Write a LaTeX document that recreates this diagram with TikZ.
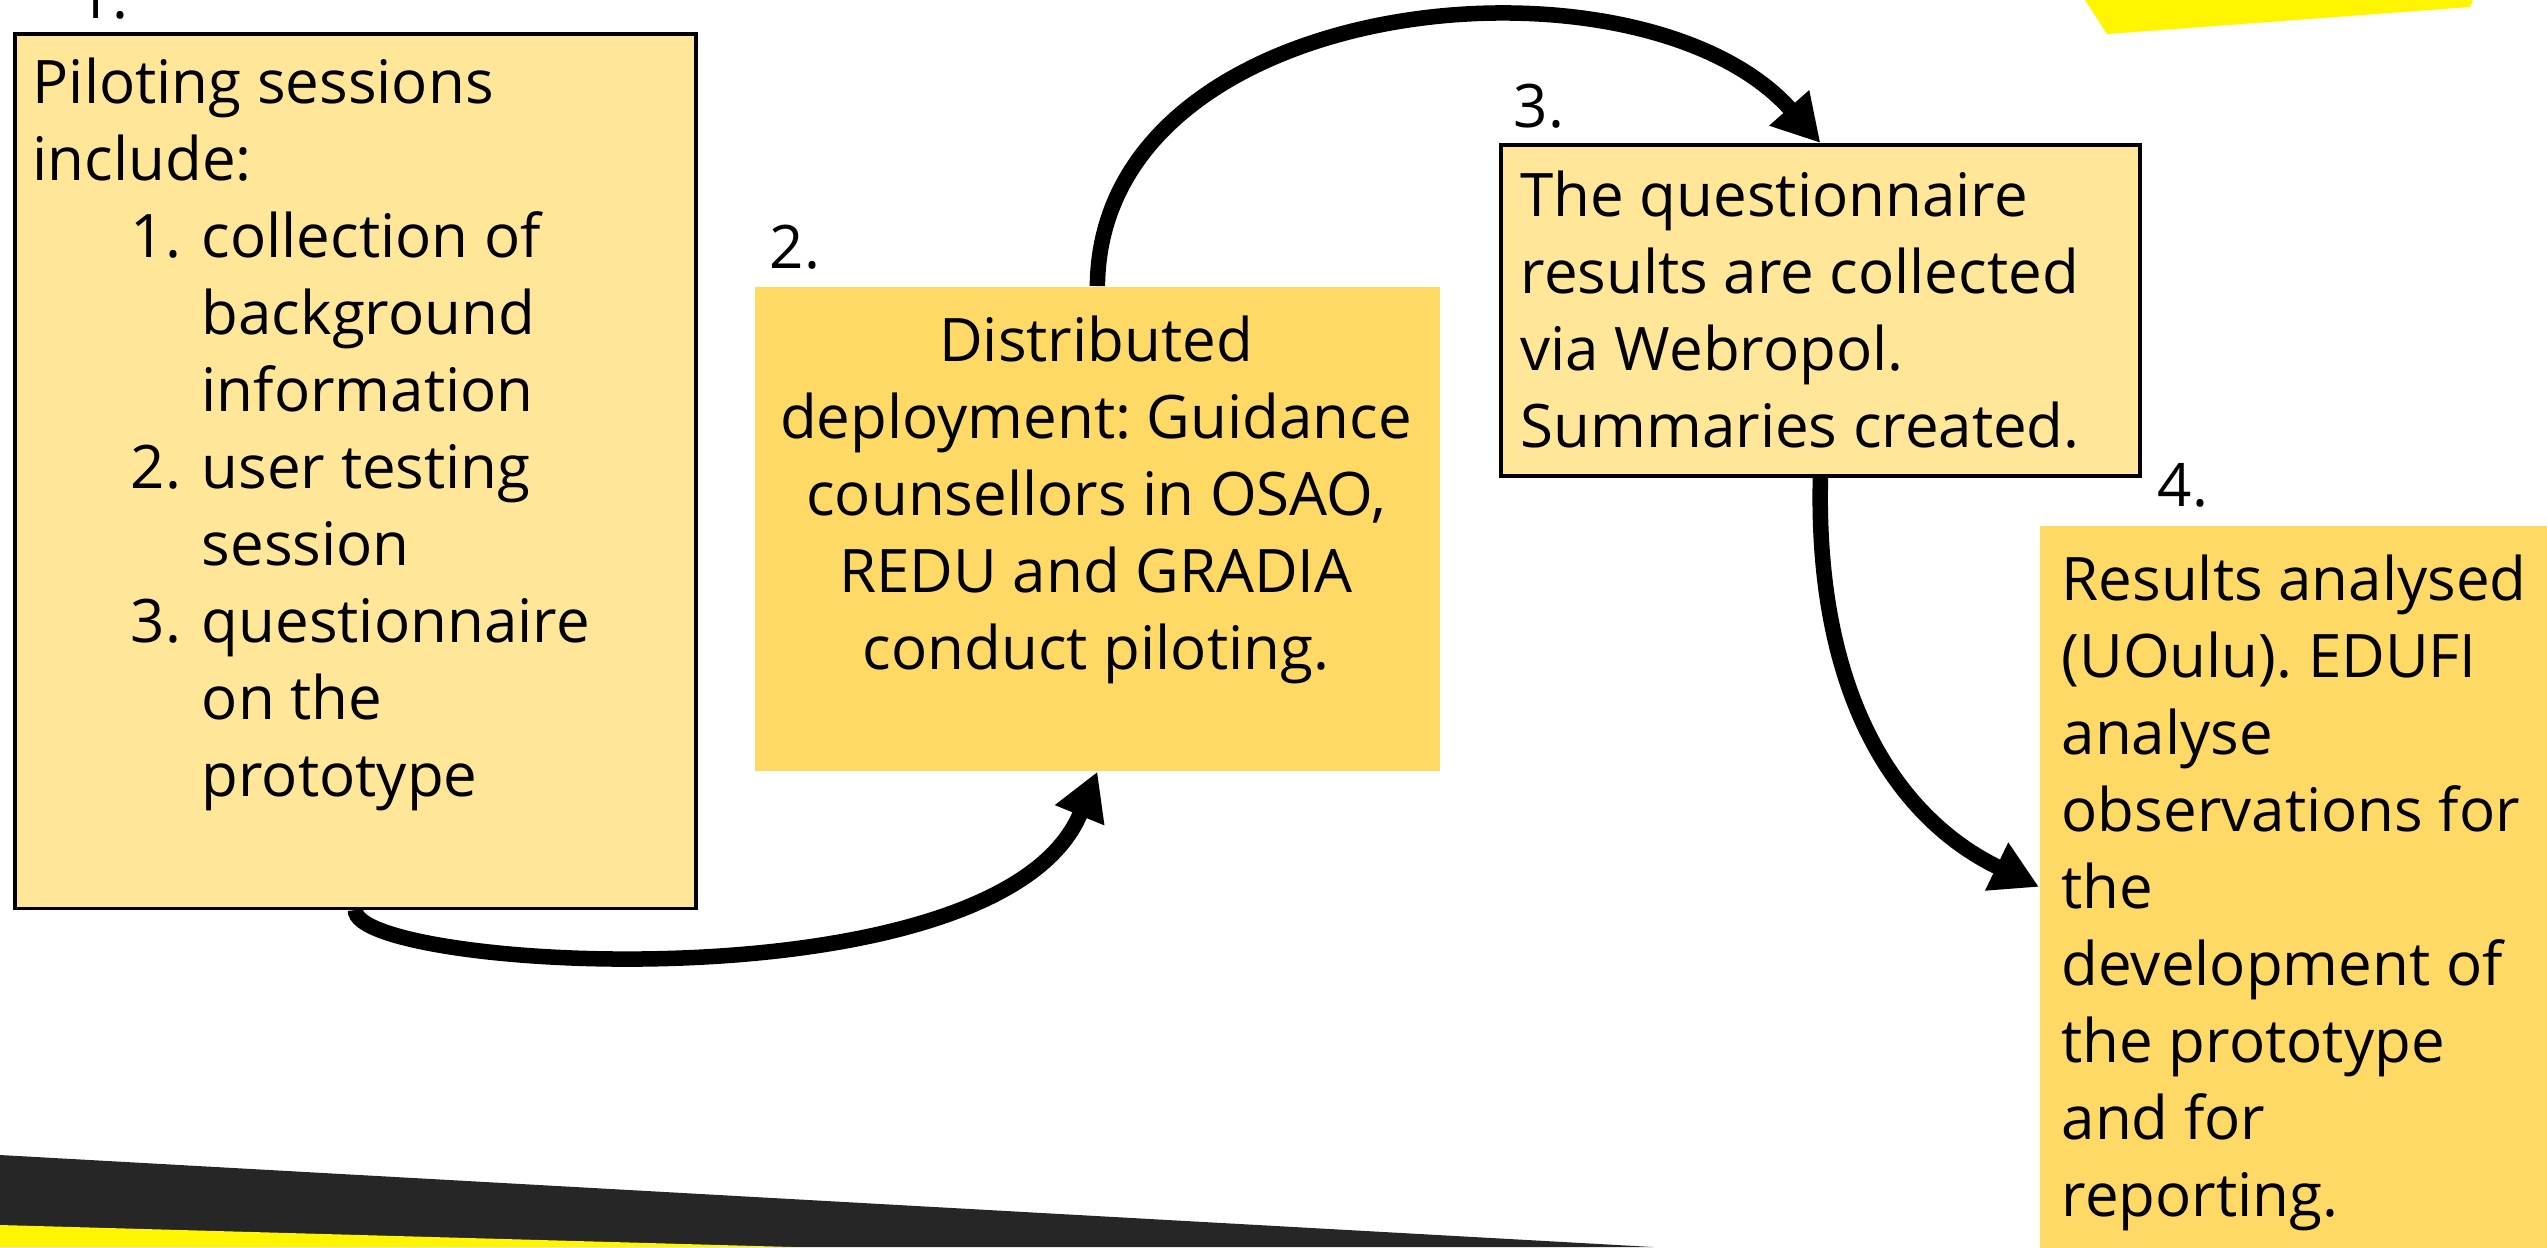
\documentclass[tikz,border=0pt]{standalone}
\usepackage{fontspec}
\setmainfont{Open Sans}
\usetikzlibrary{arrows.meta}
\definecolor{lightgold}{HTML}{FFE699}
\definecolor{gold}{HTML}{FFD966}
\definecolor{brightyellow}{HTML}{FFF500}
\definecolor{darkband}{HTML}{262626}
\frenchspacing
\begin{document}
\begin{tikzpicture}[x=0.01cm,y=-0.01cm,
  txt/.style={font=\fontsize{17.07}{21.9}\selectfont, inner sep=0, anchor=base west},
  outlined/.style={draw=black, line width=0.035cm, fill=lightgold, inner sep=0, anchor=north west},
  plainbox/.style={fill=gold, inner sep=0, anchor=north west},
  flow/.style={line width=0.155cm, -{Triangle[length=0.47cm,width=0.5cm]}}
]
\useasboundingbox (0,0) rectangle (2547,1247);
% decorative shapes
\fill[brightyellow] (2085,0) -- (2107,34) -- (2470,7) -- (2473,0) -- cycle;
\fill[darkband] (0,1155) -- (1653,1247) -- (0,1247) -- cycle;
\fill[brightyellow] (0,1225) -- (792,1247) -- (0,1247) -- cycle;
% boxes
\node[outlined, minimum width=6.81cm, minimum height=8.74cm] (b1) at (13,32) {};
\node[plainbox, minimum width=6.85cm, minimum height=4.84cm] (b2) at (754,286) {};
\node[outlined, minimum width=6.39cm, minimum height=3.31cm] (b3) at (1499,143) {};
\node[plainbox, minimum width=5.08cm, minimum height=7.22cm] (b4) at (2039,525) {};
% labels
\node[txt] (l1) at (77,18) {1.};
\node[txt] (l2) at (769,268) {2.};
\node[txt] (l3) at (1513,127) {3.};
\node[txt] (l4) at (2157,506) {4.};
% texts
\node[txt] (t1) at (32,103) {\begin{tabular}[t]{@{}l@{}}Piloting sessions\\
include:\\
\hspace*{0.98cm}\makebox[0.71cm][l]{1.}collection of\\
\hspace*{1.69cm}background\\
\hspace*{1.69cm}information\\
\hspace*{0.98cm}\makebox[0.71cm][l]{2.}user testing\\
\hspace*{1.69cm}session\\
\hspace*{0.98cm}\makebox[0.71cm][l]{3.}questionnaire\\
\hspace*{1.69cm}on the\\
\hspace*{1.69cm}prototype\end{tabular}};
\node[txt, anchor=base] (t2) at (1096,361) {\begin{tabular}[t]{@{}c@{}}Distributed\\
deployment: Guidance\\
counsellors in OSAO,\\
REDU and GRADIA\\
conduct piloting.\end{tabular}};
\node[txt] (t3) at (1520,216) {\begin{tabular}[t]{@{}l@{}}The questionnaire\\
results are collected\\
via Webropol.\\
Summaries created.\end{tabular}};
\node[txt] (t4) at (2061,600) {\begin{tabular}[t]{@{}l@{}}Results analysed\\
(UOulu). EDUFI\\
analyse\\
observations for\\
the\\
development of\\
the prototype\\
and for\\
reporting.\end{tabular}};
% connectors
\draw[flow] (b1.south) .. controls (353,970) and (1000,1010) .. (b2.south);
\draw[flow] (b2.north) .. controls (1100,-10) and (1640,-60) .. (b3.north);
\draw[flow] (b3.south) .. controls (1815,700) and (1900,820) .. (b4.west);
\end{tikzpicture}
\end{document}
